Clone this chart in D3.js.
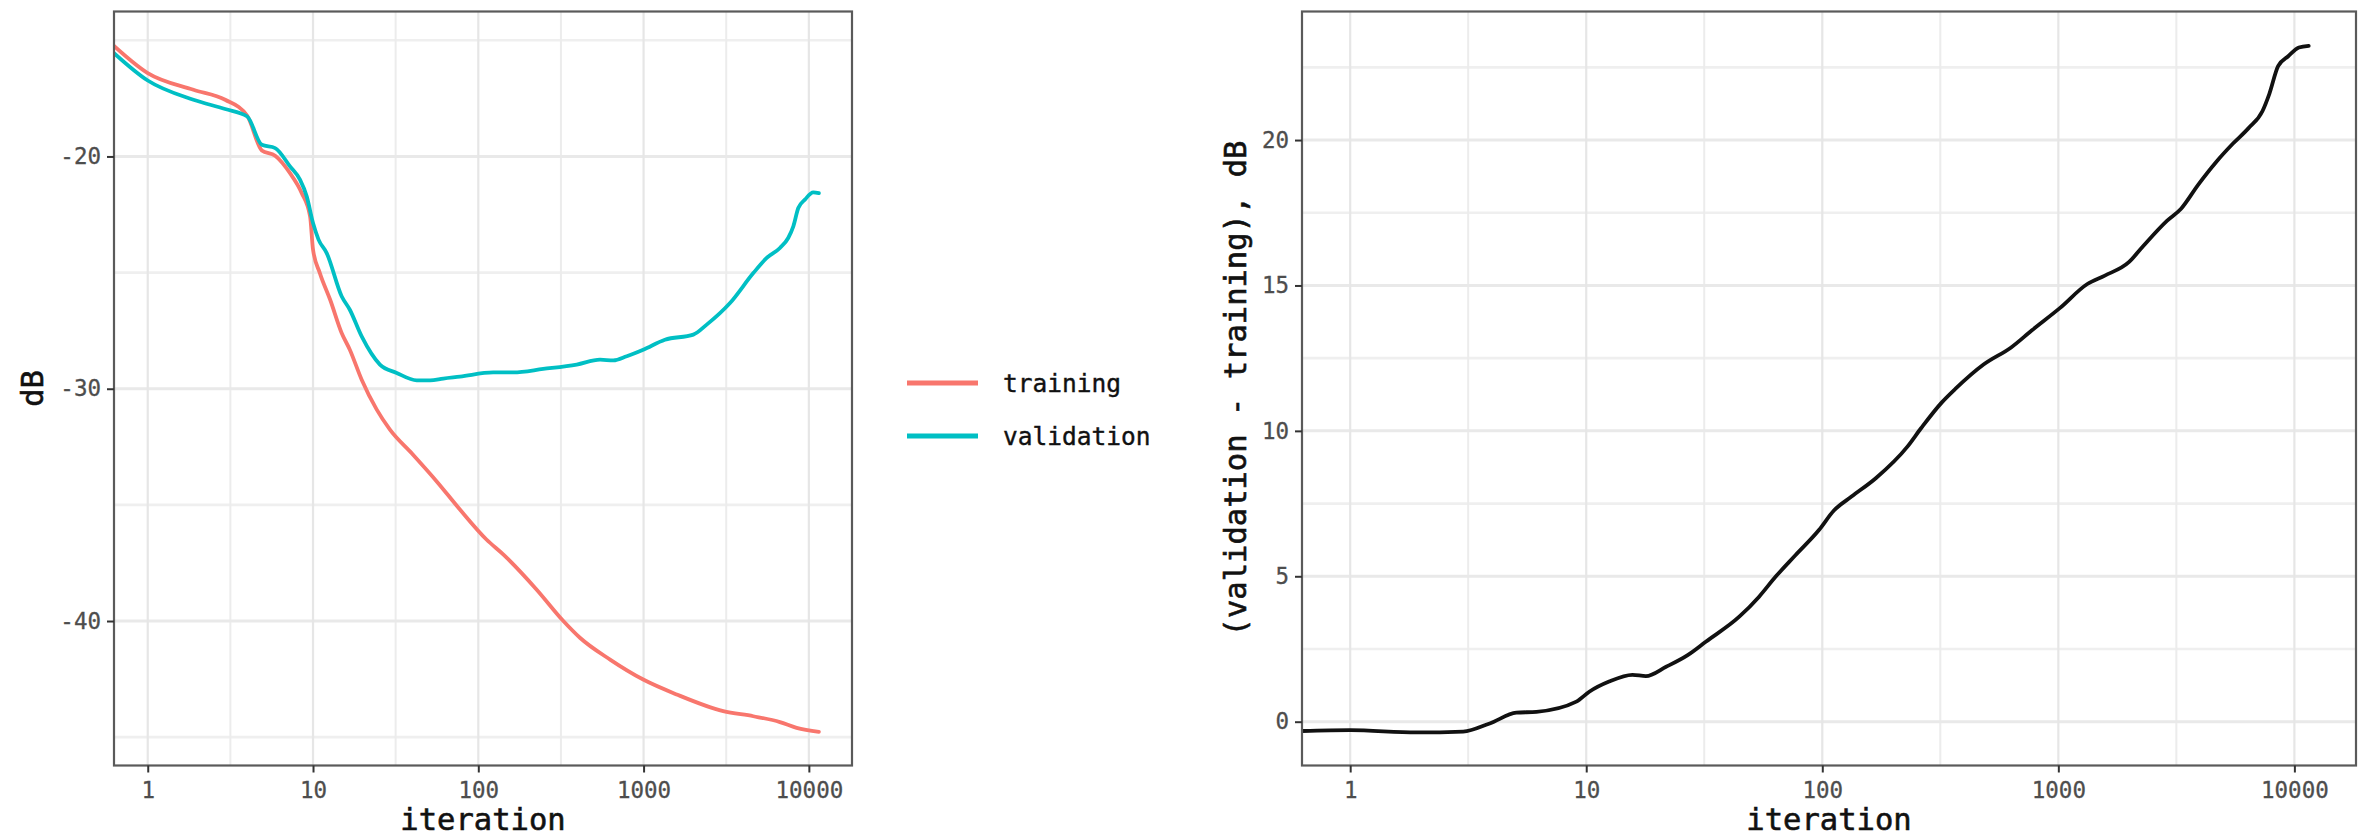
<!DOCTYPE html>
<html>
<head>
<meta charset="utf-8">
<script src="https://cdn.jsdelivr.net/npm/d3@7"></script>
<style>
  html, body { margin: 0; padding: 0; background: #fff; }
  svg { display: block; }
  text { font-family: "DejaVu Sans Mono", "Liberation Mono", monospace; }
</style>
</head>
<body>
<svg id="chart" width="2377" height="837"></svg>
<script>
// Iteration ticks (log scale) shared by both panels
const iterTicks = [1, 10, 100, 1000, 10000];
const iterMinor = [3.162, 31.62, 316.2, 3162];

// Left panel: loss in dB
const dbTicks = [-40, -30, -20];
const dbMinor = [-45, -35, -25, -15];

// Right panel: generalisation gap in dB
const gapTicks = [0, 5, 10, 15, 20];
const gapMinor = [2.5, 7.5, 12.5, 17.5, 22.5];

const seriesNames = ["training", "validation"];
const seriesColors = ["#F8766D", "#00BFC4"];

// training loss
const trainIter = [0.625, 1, 1.89, 2.94, 4, 4.9, 5.9, 7.26, 8.55, 9.6, 10, 11, 12.7, 14.9, 16.7,
  19.7, 24.3, 29.2, 39.8, 56.2, 77.4, 112, 142, 225, 327, 412, 627, 995, 1585, 3034, 4613,
  6683, 8433, 11500];
const trainDb = [-15.24, -16.41, -17.13, -17.56, -18.25, -19.74, -19.97, -20.72, -21.58, -22.58,
  -24.01, -25.02, -26.17, -27.6, -28.32, -29.61, -30.9, -31.76, -32.8, -34.0, -35.2, -36.49,
  -37.14, -38.64, -40.0, -40.72, -41.66, -42.52, -43.16, -43.88, -44.1, -44.35, -44.6, -44.77];

// validation loss
const validIter = [0.625, 1, 1.89, 2.94, 4, 4.9, 5.9, 7.26, 8.34, 9.16, 10, 10.8, 12.1, 14.9,
  16.7, 19.7, 25.4, 32.1, 42.4, 51.1, 61.4, 77.4, 123, 163, 247, 394, 545, 656, 791, 995,
  1346, 2000, 2410, 3334, 4613, 5559, 6683, 7499, 8054, 8630, 9462, 10640, 11500];
const validDb = [-15.55, -16.73, -17.56, -17.96, -18.28, -19.5, -19.64, -20.43, -21.0, -21.72,
  -22.87, -23.58, -24.16, -26.02, -26.6, -27.75, -28.96, -29.32, -29.64, -29.64, -29.56, -29.48,
  -29.3, -29.3, -29.15, -28.96, -28.75, -28.78, -28.6, -28.32, -27.89, -27.67, -27.24,
  -26.31, -25.02, -24.37, -23.94, -23.51, -23.01, -22.22, -21.86, -21.55, -21.58];

// validation - training
const gapIter = [0.625, 1, 1.91, 3.01, 3.9, 5.06, 6.15, 9.08, 10.3, 12.5, 15.7, 17.9, 21.8, 26.9,
  32.1, 44.5, 54, 63.5, 77.1, 96.8, 112, 133, 169, 229, 262, 321, 367, 482, 631, 773, 1014, 1327,
  1574, 1995, 2280, 2891, 3311, 3917, 4645, 5495, 6397, 7328, 7834, 8531, 9441, 10450, 11500];
const gapDb = [-0.32, -0.29, -0.37, -0.34, -0.06, 0.31, 0.34, 0.69, 1.03, 1.38, 1.61, 1.57, 1.89,
  2.29, 2.75, 3.61, 4.3, 4.99, 5.73, 6.59, 7.26, 7.74, 8.38, 9.45, 10.09, 10.98, 11.45, 12.28,
  12.87, 13.46, 14.22, 15.05, 15.34, 15.81, 16.34, 17.23, 17.64, 18.47, 19.23, 19.88, 20.41,
  21.0, 21.59, 22.54, 22.89, 23.18, 23.24];

const svg = d3.select("#chart");
svg.append("rect").attr("width", 2377).attr("height", 837).attr("fill", "#fff");

const panelTop = 11.5, panelBottom = 765.5;
const iterDomain = [0.625, 18240];
const plainNumber = d => String(d);

function panel(opts) {
  const g = svg.append("g");
  const x = d3.scaleLog().domain(iterDomain).range([opts.left, opts.right]);
  const y = d3.scaleLinear().domain(opts.yDomain).range([panelBottom, panelTop]);

  // grid
  const grid = g.append("g");
  grid.selectAll(".hmin").data(opts.yMinor).join("line")
    .attr("x1", opts.left).attr("x2", opts.right)
    .attr("y1", d => y(d)).attr("y2", d => y(d))
    .attr("stroke", "#efefef").attr("stroke-width", 2.6);
  grid.selectAll(".vmin").data(iterMinor).join("line")
    .attr("y1", panelTop).attr("y2", panelBottom)
    .attr("x1", d => x(d)).attr("x2", d => x(d))
    .attr("stroke", "#ececec").attr("stroke-width", 2);
  grid.selectAll(".hmaj").data(opts.yTicks).join("line")
    .attr("x1", opts.left).attr("x2", opts.right)
    .attr("y1", d => y(d)).attr("y2", d => y(d))
    .attr("stroke", "#e9e9e9").attr("stroke-width", 3);
  grid.selectAll(".vmaj").data(iterTicks).join("line")
    .attr("y1", panelTop).attr("y2", panelBottom)
    .attr("x1", d => x(d)).attr("x2", d => x(d))
    .attr("stroke", "#e6e6e6").attr("stroke-width", 2.2);

  // data
  const clipId = "clip" + opts.left;
  svg.append("clipPath").attr("id", clipId).append("rect")
    .attr("x", opts.left).attr("y", panelTop)
    .attr("width", opts.right - opts.left).attr("height", panelBottom - panelTop);
  const line = d3.line().x(d => x(d[0])).y(d => y(d[1])).curve(d3.curveMonotoneX);
  const lines = g.append("g").attr("clip-path", `url(#${clipId})`);
  opts.series.forEach(s => {
    lines.append("path")
      .datum(d3.zip(s.iter, s.values))
      .attr("d", line)
      .attr("fill", "none")
      .attr("stroke", s.color)
      .attr("stroke-width", 3.8)
      .attr("stroke-linejoin", "round")
      .attr("stroke-linecap", "round");
  });

  // border
  g.append("rect")
    .attr("x", opts.left).attr("y", panelTop)
    .attr("width", opts.right - opts.left).attr("height", panelBottom - panelTop)
    .attr("fill", "none").attr("stroke", "#5a5a5a").attr("stroke-width", 2.2);

  // axes
  const xAxis = d3.axisBottom(x).tickValues(iterTicks).tickFormat(plainNumber)
    .tickSize(7).tickPadding(6);
  const gx = g.append("g").attr("transform", `translate(0,${panelBottom})`).call(xAxis);
  const yAxis = d3.axisLeft(y).tickValues(opts.yTicks).tickFormat(plainNumber)
    .tickSize(7).tickPadding(6);
  const gy = g.append("g").attr("transform", `translate(${opts.left},0)`).call(yAxis);
  [gx, gy].forEach(a => {
    a.select(".domain").remove();
    a.selectAll(".tick line").attr("stroke", "#333").attr("stroke-width", 2);
    a.selectAll(".tick text")
      .attr("fill", "#4d4d4d")
      .attr("stroke", "#4d4d4d").attr("stroke-width", 0.3)
      .style("font-size", "22.5px")
      .style("font-family", '"DejaVu Sans Mono", monospace');
  });
  gx.selectAll(".tick text").attr("dy", "0.85em");

  // titles
  g.append("text")
    .attr("x", (opts.left + opts.right) / 2).attr("y", 830)
    .attr("text-anchor", "middle")
    .style("font-size", "30.5px").attr("fill", "#111")
    .attr("stroke", "#111").attr("stroke-width", 0.6)
    .text("iteration");
  g.append("text")
    .attr("transform", `translate(${opts.yTitleX},${(panelTop + panelBottom) / 2}) rotate(-90)`)
    .attr("text-anchor", "middle")
    .style("font-size", "30.5px").attr("fill", "#111")
    .attr("stroke", "#111").attr("stroke-width", 0.6)
    .text(opts.yTitle);
}

panel({
  left: 114, right: 852,
  yDomain: [-46.22, -13.76],
  yTicks: dbTicks, yMinor: dbMinor,
  yTitle: "dB", yTitleX: 43,
  series: [
    { iter: trainIter, values: trainDb, color: seriesColors[0] },
    { iter: validIter, values: validDb, color: seriesColors[1] }
  ]
});

panel({
  left: 1302, right: 2356,
  yDomain: [-1.506, 24.42],
  yTicks: gapTicks, yMinor: gapMinor,
  yTitle: "(validation - training), dB", yTitleX: 1246,
  series: [
    { iter: gapIter, values: gapDb, color: "#111" }
  ]
});

// legend
const legend = svg.append("g");
const keyY = d3.scalePoint().domain(seriesNames).range([383, 436]);
seriesNames.forEach((name, i) => {
  legend.append("line")
    .attr("x1", 907).attr("x2", 978)
    .attr("y1", keyY(name)).attr("y2", keyY(name))
    .attr("stroke", seriesColors[i]).attr("stroke-width", 5);
  legend.append("text")
    .attr("x", 1003).attr("y", keyY(name) + 9)
    .style("font-size", "24.5px").attr("fill", "#111")
    .attr("stroke", "#111").attr("stroke-width", 0.4)
    .text(name);
});
</script>
</body>
</html>
